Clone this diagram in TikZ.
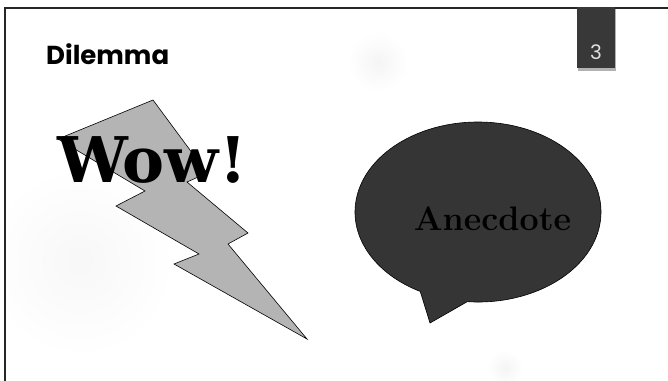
\documentclass[tikz,border=0pt]{standalone}
\usepackage{fontspec}
\newfontfamily\titlefont{Poppins}
\newfontfamily\wowfont{DejaVu Serif}
\usetikzlibrary{calc}
\definecolor{boltgray}{HTML}{B4B4B4}
\definecolor{bubblegray}{HTML}{353535}
\definecolor{boxgray}{HTML}{383838}
\tikzset{
  frameline/.style={line width=2pt, black!85},
  boltshape/.style={draw=black, fill=boltgray, line width=0.6pt, line join=miter},
  bubbleshape/.style={draw=black, fill=bubblegray, line width=0.6pt},
  blob/.style={inner color=black!4, outer color=white},
}
\begin{document}
\begin{tikzpicture}[x=1pt,y=-1pt]
\useasboundingbox (0,0) rectangle (668,380);
\fill[white] (0,0) rectangle (668,380);
% faint background blobs
\shade[blob] (378,62) circle (30);
\shade[inner color=black!3, outer color=white] (80,262) circle (95);
\shade[blob] (505,368) circle (18);
% slide frame
\draw[frameline] (5,381) -- (5,8) -- (669,8);
% page number box
\fill[black!30] (577.5,9) rectangle (615.5,71);
\node[fill=boxgray, minimum width=38pt, minimum height=61pt, inner sep=0pt, anchor=north west] (pg) at (577,7) {};
\node[text=white!88!black, font=\titlefont\fontsize{20}{22}\selectfont, anchor=base] (num) at (596,59) {3};
% title
\node[anchor=base west, inner sep=0pt, font=\titlefont\bfseries\fontsize{26}{30}\selectfont] (title) at (46,64) {Dilemma};
% lightning bolt
\draw[boltshape] (153,100) -- (207,173) -- (187,182) -- (248,233) -- (228,244) -- (307,339)
  -- (174,264) -- (199,254) -- (116,206) -- (145,191) -- (58,139) -- cycle;
\node[anchor=base west, inner sep=0pt, font=\wowfont\bfseries\fontsize{63}{66}\selectfont] (wow) at (57,182) {Wow!};
% speech bubble
\coordinate (bc) at (478,212);
\coordinate (t1) at ($(bc)+(118:123 and 90)$);
\coordinate (t2) at ($(bc)+(95:123 and 90)$);
\coordinate (tip) at (430,323);
\draw[bubbleshape] (t1) -- (tip) -- (t2) arc[start angle=95, end angle=-242, x radius=123, y radius=90] -- cycle;
\node[anchor=base, inner sep=0pt, font=\bfseries\fontsize{34}{40}\selectfont] (txt) at (492.5,230) {Anecdote};
\end{tikzpicture}
\end{document}
